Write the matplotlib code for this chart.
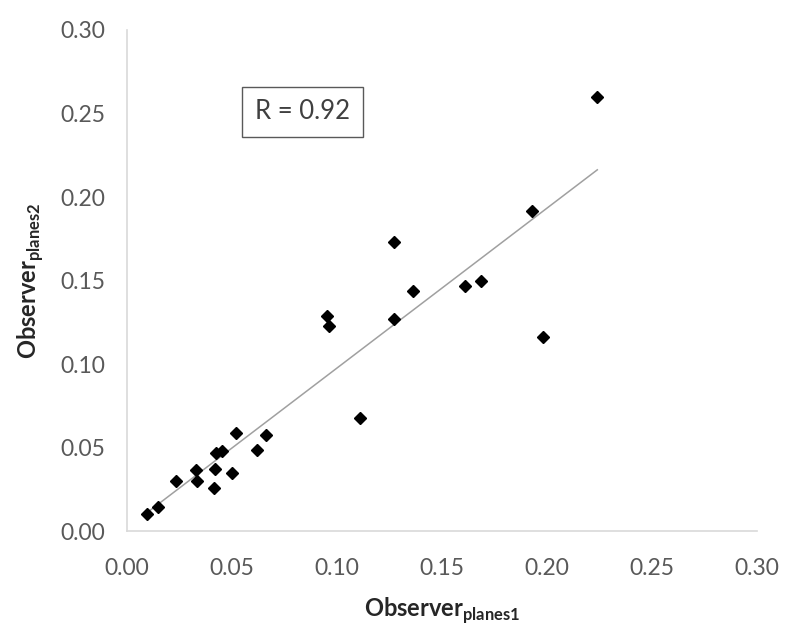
import numpy as np
import matplotlib.pyplot as plt

plt.rcParams["font.family"] = "Lato"
plt.rcParams["mathtext.fontset"] = "custom"
plt.rcParams["mathtext.rm"] = "Lato"
plt.rcParams["mathtext.bf"] = "Lato:bold"

# observer readings
obs_planes1 = [0.0095, 0.0148, 0.0233, 0.0330, 0.0333, 0.0420, 0.0414, 0.0424,
               0.0450, 0.0500, 0.0520, 0.0620, 0.0660, 0.0950, 0.0960, 0.1110,
               0.1270, 0.1270, 0.1360, 0.1610, 0.1686, 0.1930, 0.1980, 0.2240]
obs_planes2 = [0.0102, 0.0144, 0.0300, 0.0365, 0.0300, 0.0370, 0.0260, 0.0470,
               0.0480, 0.0350, 0.0587, 0.0485, 0.0575, 0.1290, 0.1228, 0.0680,
               0.1730, 0.1270, 0.1440, 0.1470, 0.1500, 0.1916, 0.1160, 0.2600]
ticks = [0.00, 0.05, 0.10, 0.15, 0.20, 0.25, 0.30]

x = np.array(obs_planes1)
y = np.array(obs_planes2)

fig = plt.figure(figsize=(8, 6.37), dpi=100)
ax = fig.add_axes([0.159, 0.166, 0.787, 0.787])

# linear trendline over data range
k, b = np.polyfit(x, y, 1)
xs = np.array([x.min(), x.max()])
ax.plot(xs, k * xs + b, color="#a0a0a0", lw=1.1, zorder=1)

ax.plot(x, y, "D", color="black", markersize=6.5, zorder=2)

ax.set_xlim(0, 0.30)
ax.set_ylim(0, 0.30)
ax.set_xticks(ticks)
ax.set_yticks(ticks)
ax.set_xticklabels(["%.2f" % t for t in ticks])
ax.set_yticklabels(["%.2f" % t for t in ticks])
ax.tick_params(length=0, labelsize=16.5, colors="#595959")
ax.tick_params(axis="x", pad=19)
ax.tick_params(axis="y", pad=16)

for s in ["top", "right"]:
    ax.spines[s].set_visible(False)
for s in ["left", "bottom"]:
    ax.spines[s].set_color("#d9d9d9")
    ax.spines[s].set_linewidth(1.2)

ax.set_xlabel(r"$\mathbf{Observer}_{\mathbf{planes1}}$", fontsize=17, color="#262626", labelpad=12)
ax.set_ylabel(r"$\mathbf{Observer}_{\mathbf{planes2}}$", fontsize=17, color="#262626", labelpad=10)

ax.text(0.0835, 0.2509, "R = 0.92", fontsize=18.5, color="#404040", ha="center", va="center",
        bbox=dict(boxstyle="square,pad=0.5", fc="white", ec="#595959", lw=1))

fig.savefig("out.png")
